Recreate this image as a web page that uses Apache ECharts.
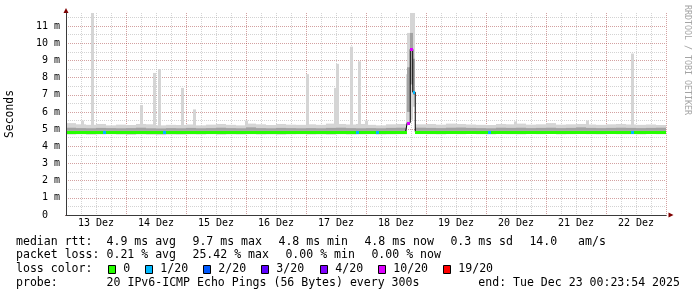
<!DOCTYPE html>
<html>
<head>
<meta charset="utf-8">
<script src="https://cdn.jsdelivr.net/npm/echarts@6/dist/echarts.min.js"></script>
<style>
html,body{margin:0;padding:0;background:#ffffff;}
#chart{width:697px;height:297px;}
</style>
</head>
<body>
<div id="chart"></div>
<script>
// ---------------- data (hours since 13 Dez 00:00, values in ms) ----------------
const binStart = [0,4,8,12,16,20,24,28,32,36,40,44,48,52,56,60,64,68,72,76,80,84,88,92,96,100,104,108,112,116,120,124,128,132,
  135.8,136.5,137.7,138.7,139.7,
  140,144,148,152,156,160,164,168,172,176,180,184,188,192,196,200,204,208,212,216,220,224,228,232,236];
const binEndLast = 240;
const medianRtt = [4.82,4.81,4.83,4.82,4.81,4.82, 4.81,4.83,4.81,4.81,4.81,4.82, 4.82,4.81,4.81,4.83,4.81,4.82,
  4.86,4.82,4.81,4.83,4.82,4.81, 4.82,4.81,4.81,4.83,4.82,4.81, 4.82,4.81,4.83,4.82,
  4.82,5.38,9.65,7.15,4.85,
  4.84,4.83,4.82,4.83,4.85,4.84, 4.83,4.82,4.84,4.83,4.84,4.82, 4.83,4.84,4.82,4.83,4.84,4.83, 4.82,4.83,4.84,4.83,4.82,4.83,4.84];
const lossCount = [0,0,0,0,0,0, 0,0,0,0,0,0, 0,0,0,0,0,0, 0,0,0,0,0,0, 0,0,0,0,0,0, 0,0,0,0,
  0,10,10,1,0,
  0,0,0,0,0,0, 0,0,0,0,0,0, 0,0,0,0,0,0, 0,0,0,0,0,0,0];
const smokeLow = [4.68,4.70,4.67,4.69,4.70,4.68, 4.66,4.69,4.67,4.65,4.68,4.67, 4.69,4.68,4.70,4.67,4.69,4.68,
  4.70,4.68,4.69,4.67,4.69,4.70, 4.68,4.69,4.67,4.70,4.68,4.69, 4.70,4.68,4.69,4.70,
  4.70,5.30,5.55,6.30,4.72,
  4.71,4.70,4.69,4.71,4.70,4.72, 4.70,4.69,4.71,4.70,4.69,4.71, 4.70,4.72,4.69,4.70,4.71,4.70, 4.69,4.71,4.70,4.70,4.69,4.71,4.70];
const smokeCoreLow = [4.90,4.90,4.90,4.90,4.90,4.90, 4.90,4.90,4.90,4.90,4.90,4.90, 4.90,4.90,4.90,4.90,4.90,4.90,
  4.90,4.90,4.90,4.90,4.90,4.90, 4.90,4.90,4.90,4.90,4.90,4.90, 4.90,4.90,4.90,4.90,
  4.90,6.00,7.60,7.00,4.90,
  4.90,4.90,4.90,4.90,4.90,4.90, 4.90,4.90,4.90,4.90,4.90,4.90, 4.90,4.90,4.90,4.90,4.90,4.90, 4.90,4.90,4.90,4.90,4.90,4.90,4.90];
const smokeCoreHigh = [5.08,5.06,5.05,5.07,5.06,5.05, 5.06,5.08,5.05,5.04,5.06,5.05, 5.07,5.05,5.06,5.08,5.06,5.05,
  5.10,5.06,5.05,5.07,5.06,5.05, 5.06,5.05,5.07,5.08,5.06,5.05, 5.06,5.05,5.07,5.08,
  5.20,8.60,10.60,9.10,5.10,
  5.08,5.07,5.06,5.08,5.09,5.07, 5.06,5.05,5.08,5.07,5.08,5.06, 5.07,5.08,5.06,5.07,5.10,5.07, 5.06,5.07,5.08,5.07,5.06,5.07,5.08];
const smokeHigh = [5.35,5.28,5.25,5.30,5.22,5.26, 5.24,5.30,5.28,5.22,5.25,5.24, 5.27,5.22,5.26,5.30,5.25,5.22,
  5.32,5.28,5.24,5.30,5.26,5.25, 5.28,5.25,5.32,5.30,5.27,5.30, 5.25,5.22,5.28,5.30,
  8.20,10.60,11.76,11.76,5.30,
  5.28,5.30,5.26,5.32,5.30,5.27, 5.25,5.24,5.30,5.28,5.32,5.26, 5.28,5.35,5.26,5.28,5.30,5.27, 5.25,5.28,5.30,5.27,5.25,5.27,5.24];
const spikeHour = [6.4,10.4,30.0,35.2,37.2,46.4,51.2,72.0,96.4,107.6,108.4,114.0,117.2,120.0,179.6,208.4,226.4];
const spikeTop  = [5.5,11.76,6.4,8.27,8.5,7.4,6.15,5.5,8.2,7.4,8.8,9.8,8.95,5.5,5.45,5.5,9.4];
const lossMarkHour  = [15.3,39.3,116.3,124.3,169.3,226.3];
const lossMarkRtt   = [4.82,4.82,4.82,4.82,4.83,4.83];
const lossMarkCount = [1,1,1,1,1,1];
const dayLabels = ['13 Dez','14 Dez','15 Dez','16 Dez','17 Dez','18 Dez','19 Dez','20 Dez','21 Dez','22 Dez'];
const yTickLabels = ['0  ','1 m','2 m','3 m','4 m','5 m','6 m','7 m','8 m','9 m','10 m','11 m'];
const lossLevels = [0,1,2,3,4,10,19];
const lossColors = ['#26ff00','#00b8ff','#0059ff','#5e00ff','#7e00ff','#dd00ff','#ff0000'];
const lossLegendLabels = ['0','1/20','2/20','3/20','4/20','10/20','19/20'];
const statsRtt = ['median rtt:','4.9 ms avg','9.7 ms max','4.8 ms min','4.8 ms now','0.3 ms sd','14.0   am/s'];
const statsLoss = ['packet loss:','0.21 % avg','25.42 % max','0.00 % min','0.00 % now'];
const lossColorTitle = 'loss color:';
const probeTexts = ['probe:','20 IPv6-ICMP Echo Pings (56 Bytes) every 300s','end: Tue Dec 23 00:23:54 2025'];
const yName = 'Seconds';
const watermark = 'RRDTOOL / TOBI OETIKER';

// ---------------- styles / layout ----------------
const MONO = '"DejaVu Sans Mono", monospace';
const GRID = 'rgba(140,140,140,0.38)';
const MGRID = 'rgba(150,30,30,0.42)';
const AXIS = '#3a3a3a';
const ARROW = '#7f0000';
const SMOKE_OUT = '#d5d5d5';
const SMOKE_CORE = '#a2a2a2';
const Y_MAX = 11.76;

function lossColor(n){
  let c = lossColors[0];
  for (let i = 0; i < lossLevels.length; i++) if (n >= lossLevels[i]) c = lossColors[i];
  return c;
}
const binEnd = binStart.map((s,i)=> i+1 < binStart.length ? binStart[i+1] : binEndLast);

const smokeData = binStart.map((s,i)=>[s, binEnd[i], smokeLow[i], smokeCoreLow[i], smokeCoreHigh[i], smokeHigh[i]]);
const medianBins = binStart.map((s,i)=>[s, binEnd[i], medianRtt[i], lossCount[i]]);
const medianLine = binStart.map((s,i)=>[s, medianRtt[i]]).concat([[binEndLast, medianRtt[medianRtt.length-1]]]);
const spikeData = spikeHour.map((h,i)=>[h, spikeTop[i], 5.0]);
const markData = lossMarkHour.map((h,i)=>[h, lossMarkRtt[i], lossMarkCount[i]]);

function renderSmoke(params, api){
  const s = api.value(0), e = api.value(1);
  const pHi = api.coord([s, api.value(5)]);
  const pQ3 = api.coord([s, api.value(4)]);
  const pQ1 = api.coord([s, api.value(3)]);
  const pLo = api.coord([e, api.value(2)]);
  const x0 = Math.round(pHi[0]), x1 = Math.round(pLo[0]);
  return {type:'group', children:[
    {type:'rect', shape:{x:x0, y:pHi[1], width:x1-x0, height:pLo[1]-pHi[1]}, style:{fill:SMOKE_OUT}},
    {type:'rect', shape:{x:x0, y:pQ3[1], width:x1-x0, height:pQ1[1]-pQ3[1]}, style:{fill:SMOKE_CORE}}
  ]};
}
function renderSpike(params, api){
  const h = api.value(0);
  const a = api.coord([h - 0.6, api.value(1)]);
  const b = api.coord([h + 0.6, api.value(2)]);
  const x0 = Math.round(a[0]), x1 = Math.round(b[0]);
  return {type:'rect', shape:{x:x0, y:a[1], width:Math.max(x1-x0,2), height:b[1]-a[1]}, style:{fill:SMOKE_OUT}};
}
function renderMedian(params, api){
  const a = api.coord([api.value(0), api.value(2)]);
  const b = api.coord([api.value(1), api.value(2)]);
  const x0 = Math.round(a[0]), x1 = Math.round(b[0]);
  return {type:'rect', shape:{x:x0, y:Math.round(a[1]) - 1, width:x1-x0, height:3}, style:{fill:lossColor(api.value(3))}};
}
function renderMark(params, api){
  const p = api.coord([api.value(0), api.value(1)]);
  return {type:'rect', shape:{x:Math.round(p[0]) - 1, y:Math.round(p[1]) - 1, width:3, height:3}, style:{fill:lossColor(api.value(2))}};
}

const baseX = {type:'value', min:0, max:240, position:'bottom', offset:0, gridIndex:0,
  axisLine:{show:false}, axisTick:{show:false}, axisLabel:{show:false}, splitLine:{show:false}};
const baseY = {type:'value', min:0, max:Y_MAX, position:'left', offset:0, gridIndex:0,
  axisLine:{show:false}, axisTick:{show:false}, axisLabel:{show:false}, splitLine:{show:false}};

// ---------------- legend graphics ----------------
const CW = 6.96, GAP = 2.46, LX = 16;
const rowY = [241.6, 255.2, 269.3, 282.8];
const rttCols = [[0,0],[13,0],[25,1],[37,2],[49,3],[61,4],[72,5]];
const lossCols = [[0,0],[13,0],[25,1],[38,2],[50,3]];
const boxX = [108.5,145.5,203.5,261.5,320.5,378.5,443.5];
const probeX = [16, 106.6, 478.3];
const FONT = `11.56px ${MONO}`;
const graphic = [];
function txt(t, x, y){ graphic.push({type:'text', x:x, y:y, silent:true, style:{text:t, font:FONT, fill:'#000', align:'left', verticalAlign:'middle'}}); }
statsRtt.forEach((t,i)=> txt(t, LX + rttCols[i][0]*CW + rttCols[i][1]*GAP, rowY[0]));
statsLoss.forEach((t,i)=> txt(t, LX + lossCols[i][0]*CW + lossCols[i][1]*GAP, rowY[1]));
txt(lossColorTitle, LX, rowY[2]);
lossLegendLabels.forEach((t,i)=>{
  graphic.push({type:'rect', x:boxX[i], y:265.5, silent:true, shape:{x:0,y:0,width:7,height:8}, style:{fill:lossColors[i], stroke:'#000', lineWidth:1}});
  txt(t, boxX[i] + 14.8, rowY[2]);
});
probeTexts.forEach((t,i)=> txt(t, probeX[i], rowY[3]));
graphic.push({type:'text', x:10, y:114, rotation:Math.PI/2, silent:true,
  style:{text:yName, font:`11.4px ${MONO}`, fill:'#000', align:'center', verticalAlign:'middle'}});
graphic.push({type:'text', x:687, y:60, rotation:-Math.PI/2, silent:true,
  style:{text:watermark, font:`8.3px ${MONO}`, fill:'#a4a4a4', align:'center', verticalAlign:'middle'}});

const option = {
  animation:false,
  backgroundColor:'#ffffff',
  grid:{left:66, top:13, width:600, height:202, containLabel:false, outerBoundsMode:'none'},
  xAxis:[
    Object.assign({}, baseX, {interval:6, splitLine:{show:true, showMinLine:true, showMaxLine:true,
      lineStyle:{color:['rgba(0,0,0,0)',GRID,GRID,GRID], width:1, type:[1,1]}}}),
    Object.assign({}, baseX, {interval:24, splitLine:{show:true, showMinLine:true, showMaxLine:true,
      lineStyle:{color:MGRID, width:1, type:[1,1]}}}),
    Object.assign({}, baseX, {interval:24, z:9, axisLine:{show:true, onZero:false, symbol:['none','triangle'],
      symbolSize:[5,5], symbolOffset:[0,5], lineStyle:{color:ARROW, width:1}}}),
    Object.assign({}, baseX, {interval:12, z:10, axisLine:{show:true, onZero:false, lineStyle:{color:AXIS, width:1}},
      axisLabel:{show:true, margin:3, fontFamily:MONO, fontSize:10, color:'#000',
        formatter:(v)=> (v % 24 === 12) ? dayLabels[(v - 12) / 24] : ''}})
  ],
  yAxis:[
    Object.assign({}, baseY, {interval:0.5, splitLine:{show:true, showMinLine:true, showMaxLine:false,
      lineStyle:{color:['rgba(0,0,0,0)',GRID], width:1, type:[1,1]}}}),
    Object.assign({}, baseY, {interval:1, splitLine:{show:true, showMinLine:true, showMaxLine:false,
      lineStyle:{color:MGRID, width:1, type:[1,1]}}}),
    Object.assign({}, baseY, {interval:1, z:9, axisLine:{show:true, onZero:false, symbol:['none','triangle'],
      symbolSize:[5,5], symbolOffset:[0,2.5], lineStyle:{color:ARROW, width:1}}}),
    Object.assign({}, baseY, {interval:1, z:10, axisLine:{show:true, onZero:false, lineStyle:{color:AXIS, width:1}},
      axisLabel:{show:true, margin:6, fontFamily:MONO, fontSize:10, color:'#000', showMaxLabel:false,
        formatter:(v)=> (Number.isInteger(v) && yTickLabels[v] !== undefined) ? yTickLabels[v] : ''}})
  ],
  series:[
    {type:'custom', name:'spikes', xAxisIndex:3, yAxisIndex:3, z:2, clip:true, silent:true,
      renderItem:renderSpike, encode:{x:0, y:[1,2]}, data:spikeData},
    {type:'custom', name:'smoke', xAxisIndex:3, yAxisIndex:3, z:3, clip:true, silent:true,
      renderItem:renderSmoke, encode:{x:[0,1], y:[2,3,4,5]}, data:smokeData},
    {type:'line', name:'median', xAxisIndex:3, yAxisIndex:3, z:4, step:'end', symbol:'none', silent:true,
      lineStyle:{color:'#000', width:1}, data:medianLine},
    {type:'custom', name:'medianLoss', xAxisIndex:3, yAxisIndex:3, z:5, clip:true, silent:true,
      renderItem:renderMedian, encode:{x:[0,1], y:2}, data:medianBins},
    {type:'custom', name:'lossMarks', xAxisIndex:3, yAxisIndex:3, z:6, clip:true, silent:true,
      renderItem:renderMark, encode:{x:0, y:1}, data:markData}
  ],
  graphic:graphic
};
const chart = echarts.init(document.getElementById('chart'), null, {renderer:'canvas'});
chart.setOption(option);
</script>
</body>
</html>
